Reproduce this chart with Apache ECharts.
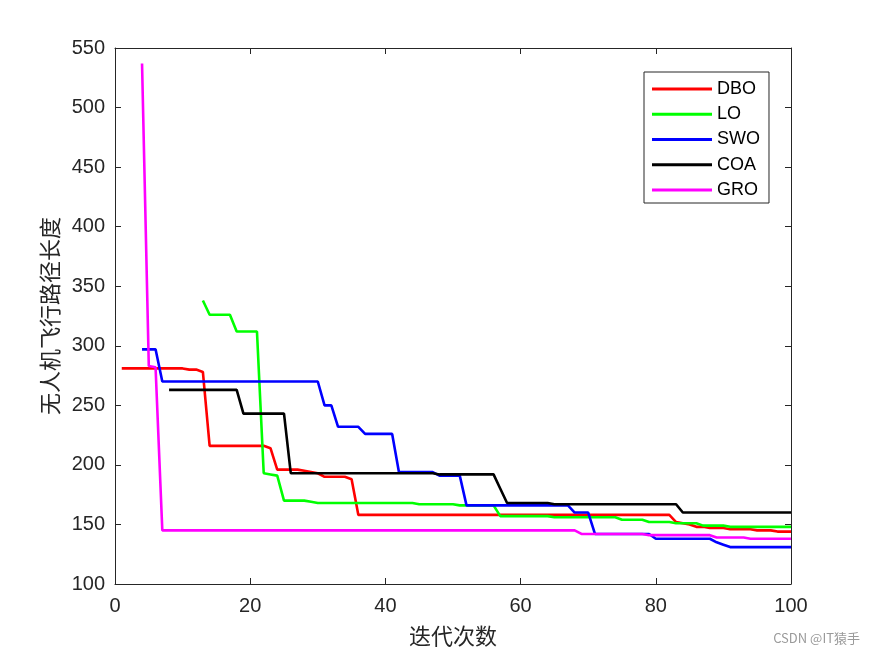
<!DOCTYPE html>
<html>
<head>
<meta charset="utf-8">
<script src="https://cdn.jsdelivr.net/npm/echarts@6/dist/echarts.min.js"></script>
<style>html,body{margin:0;padding:0;background:#fff;}#c{width:875px;height:656px;}</style>
</head>
<body>
<div id="c"></div>
<script>
var seriesNames = ['DBO', 'LO', 'SWO', 'COA', 'GRO'];
var seriesColors = ['#ff0000', '#00ff00', '#0000ff', '#000000', '#ff00ff'];
var xTicks = [0, 20, 40, 60, 80, 100];
var yTicks = [100, 150, 200, 250, 300, 350, 400, 450, 500, 550];

var iterations = [];
for (var i = 1; i <= 100; i++) iterations.push(i);

var DBO = [281,281,281,281,281,281,281,281,281,281,
  280,280,278,216,216,216,216,216,216,216,
  216,216,214,196,196,196,196,195,194,193,
  190,190,190,190,188,158,158,158,158,158,
  158,158,158,158,158,158,158,158,158,158,
  158,158,158,158,158,158,158,158,158,158,
  158,158,158,158,158,158,158,158,158,158,
  158,158,158,158,158,158,158,158,158,158,
  158,158,152,151,150,148,148,147,147,147,
  146,146,146,146,145,145,145,144,144,144];

var LO = [null,null,null,null,null,null,null,null,null,null,
  null,null,338,326,326,326,326,312,312,312,
  312,193,192,191,170,170,170,170,169,168,
  168,168,168,168,168,168,168,168,168,168,
  168,168,168,168,167,167,167,167,167,167,
  166,166,166,166,166,166,157,157,157,157,
  157,157,157,157,156,156,156,156,156,156,
  156,156,156,156,154,154,154,154,152,152,
  152,152,151,151,151,151,149,149,149,149,
  148,148,148,148,148,148,148,148,148,148];

var SWO = [null,null,null,297,297,297,270,270,270,270,
  270,270,270,270,270,270,270,270,270,270,
  270,270,270,270,270,270,270,270,270,270,
  250,250,232,232,232,232,226,226,226,226,
  226,194,194,194,194,194,194,191,191,191,
  191,166,166,166,166,166,166,166,166,166,
  166,166,166,166,166,166,166,160,160,160,
  142,142,142,142,142,142,142,142,142,138,
  138,138,138,138,138,138,138,138,135,133,
  131,131,131,131,131,131,131,131,131,131];

var COA = [null,null,null,null,null,null,null,263,263,263,
  263,263,263,263,263,263,263,263,243,243,
  243,243,243,243,243,193,193,193,193,193,
  193,193,193,193,193,193,193,193,193,193,
  193,193,193,193,193,193,193,192,192,192,
  192,192,192,192,192,192,180,168,168,168,
  168,168,168,168,167,167,167,167,167,167,
  167,167,167,167,167,167,167,167,167,167,
  167,167,167,160,160,160,160,160,160,160,
  160,160,160,160,160,160,160,160,160,160];

var GRO = [null,null,null,537,283,282,145,145,145,145,
  145,145,145,145,145,145,145,145,145,145,
  145,145,145,145,145,145,145,145,145,145,
  145,145,145,145,145,145,145,145,145,145,
  145,145,145,145,145,145,145,145,145,145,
  145,145,145,145,145,145,145,145,145,145,
  145,145,145,145,145,145,145,145,142,142,
  142,142,142,142,142,142,142,142,141,141,
  141,141,141,141,141,141,141,141,139,139,
  139,139,139,138,138,138,138,138,138,138];

var allData = [DBO, LO, SWO, COA, GRO];

function pairs(arr) {
  return iterations.map(function (x, k) { return [x, arr[k]]; });
}

var axisColor = '#262626';
var tickFont = { fontFamily: 'Liberation Sans, Arial, sans-serif', fontSize: 20, color: axisColor };

var chart = echarts.init(document.getElementById('c'), null, { renderer: 'canvas' });
chart.setOption({
  backgroundColor: '#ffffff',
  animation: false,
  grid: { left: 115, right: 84, top: 48, bottom: 72, containLabel: false },
  legend: {
    orient: 'vertical',
    left: 644,
    top: 72,
    width: 127,
    padding: [8, 9, 4, 8],
    itemGap: 7.25,
    itemWidth: 60,
    itemHeight: 3,
    icon: 'rect',
    backgroundColor: '#ffffff',
    borderColor: '#262626',
    borderWidth: 1,
    borderRadius: 0,
    textStyle: { fontFamily: 'Liberation Sans, Arial, sans-serif', fontSize: 18, color: '#000', lineHeight: 18 },
    data: seriesNames
  },
  xAxis: [{
    type: 'value', min: xTicks[0], max: xTicks[xTicks.length - 1], interval: 20,
    position: 'bottom',
    name: '迭代次数', nameLocation: 'middle', nameGap: 41,
    nameTextStyle: { fontFamily: 'Noto Sans CJK SC', fontSize: 22, color: axisColor },
    axisLine: { show: true, onZero: false, lineStyle: { color: axisColor, width: 1 } },
    axisTick: { show: true, inside: true, length: 6, lineStyle: { color: axisColor } },
    axisLabel: Object.assign({ margin: 12 }, tickFont),
    splitLine: { show: false }
  }, {
    type: 'value', min: xTicks[0], max: xTicks[xTicks.length - 1], interval: 20,
    position: 'top',
    axisLine: { show: true, onZero: false, lineStyle: { color: axisColor, width: 1 } },
    axisTick: { show: true, inside: true, length: 6, lineStyle: { color: axisColor } },
    axisLabel: { show: false },
    splitLine: { show: false }
  }],
  yAxis: [{
    type: 'value', min: yTicks[0], max: yTicks[yTicks.length - 1], interval: 50,
    position: 'left',
    name: '无人机飞行路径长度', nameLocation: 'middle', nameGap: 53, nameRotate: 90,
    nameTextStyle: { fontFamily: 'Noto Sans CJK SC', fontSize: 22, color: axisColor },
    axisLine: { show: true, onZero: false, lineStyle: { color: axisColor, width: 1 } },
    axisTick: { show: true, inside: true, length: 6, lineStyle: { color: axisColor } },
    axisLabel: Object.assign({ margin: 10 }, tickFont),
    splitLine: { show: false }
  }, {
    type: 'value', min: yTicks[0], max: yTicks[yTicks.length - 1], interval: 50,
    position: 'right',
    axisLine: { show: true, onZero: false, lineStyle: { color: axisColor, width: 1 } },
    axisTick: { show: true, inside: true, length: 6, lineStyle: { color: axisColor } },
    axisLabel: { show: false },
    splitLine: { show: false }
  }],
  graphic: [{
    type: 'text', right: 15, top: 632,
    style: { text: 'CSDN @IT猿手', fill: '#9a9a9a', fontSize: 13, fontFamily: 'Noto Sans CJK SC' }
  }],
  series: seriesNames.map(function (n, k) {
    return {
      name: n, type: 'line', xAxisIndex: 0, yAxisIndex: 0,
      data: pairs(allData[k]),
      showSymbol: false, symbol: 'none', connectNulls: false,
      color: seriesColors[k],
      lineStyle: { width: 2.6, color: seriesColors[k] },
      z: 2 + k
    };
  })
});
</script>
</body>
</html>
